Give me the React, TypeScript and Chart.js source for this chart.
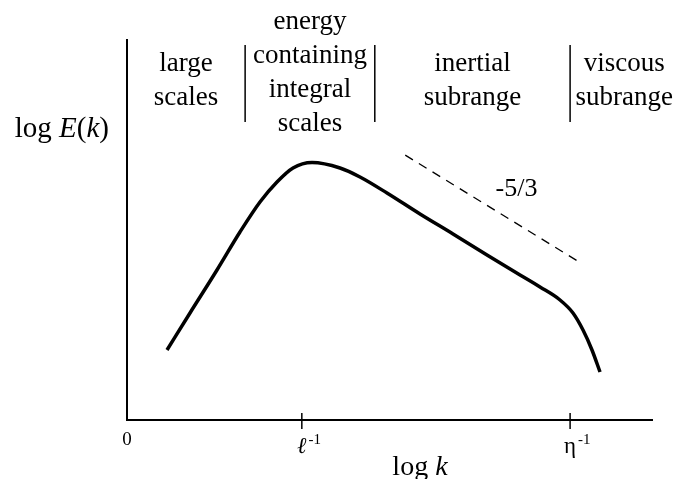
import React, { useEffect, useRef } from "react";
import { Chart, registerables } from "chart.js";

Chart.register(...registerables);

// Energy spectrum curve (log k, log E)
const curveX = [0.762, 1.2, 1.714, 2.152, 2.533, 2.857, 3.162, 3.524, 4.057, 4.438, 4.952, 5.581, 6.21, 6.857, 7.486, 7.867, 8.248, 8.495, 8.686, 8.857, 9.01];
const curveY = [1.842, 2.816, 3.947, 4.947, 5.737, 6.263, 6.632, 6.776, 6.632, 6.395, 5.974, 5.421, 4.895, 4.342, 3.816, 3.5, 3.158, 2.816, 2.368, 1.842, 1.263];
// -5/3 reference slope
const slopeX = [5.3, 8.67];
const slopeY = [6.97, 4.11];
const slopeLabel = "-5/3";
const slopeLabelX = 7.42;
const slopeLabelY = 6.08;
// region separators and labels
const separatorX = [2.25, 4.72, 8.44];
const separatorY = [7.84, 9.87];
const regionBounds = [0, 2.25, 4.72, 8.44, 10.5];
const regionLabels = [
  ["large", "scales"],
  ["energy", "containing", "integral", "scales"],
  ["inertial", "subrange"],
  ["viscous", "subrange"],
];
// x ticks
const tickValues = [0, 3.33, 8.44];
const tickMain = ["0", "\u2113", "\u03b7"];
const tickSup = ["", "-1", "-1"];
const xTitleX = 5.58;

const SERIF = '"Liberation Serif", "Times New Roman", serif';

type Seg = { t: string; italic?: boolean };

function drawRich(ctx: CanvasRenderingContext2D, segs: Seg[], size: number, x: number, y: number, align: "left" | "center" | "right") {
  const fonts = segs.map((s) => `${s.italic ? "italic " : ""}${size}px ${SERIF}`);
  let total = 0;
  const widths = segs.map((s, i) => {
    ctx.font = fonts[i];
    const w = ctx.measureText(s.t).width;
    total += w;
    return w;
  });
  let cx = align === "left" ? x : align === "center" ? x - total / 2 : x - total;
  ctx.textAlign = "left";
  segs.forEach((s, i) => {
    ctx.font = fonts[i];
    ctx.fillText(s.t, cx, y);
    cx += widths[i];
  });
}

const annotPlugin = {
  id: "annot",
  afterDraw(chart: any) {
    const { ctx, chartArea } = chart;
    const x = chart.scales.x;
    const y = chart.scales.y;
    ctx.save();
    ctx.fillStyle = "#000";
    ctx.strokeStyle = "#000";

    // tick marks crossing the axis
    ctx.lineWidth = 1.5;
    tickValues.forEach((v, i) => {
      if (i === 0) return;
      const px = x.getPixelForValue(v);
      ctx.beginPath();
      ctx.moveTo(px, chartArea.bottom - 7);
      ctx.lineTo(px, chartArea.bottom + 9);
      ctx.stroke();
    });

    // tick labels
    ctx.textBaseline = "alphabetic";
    tickValues.forEach((v, i) => {
      const px = x.getPixelForValue(v);
      if (!tickSup[i]) {
        ctx.font = `19px ${SERIF}`;
        ctx.textAlign = "center";
        ctx.fillText(tickMain[i], px, chartArea.bottom + 25);
        return;
      }
      const mainFont = `${i === 1 ? "italic " : ""}23px ${SERIF}`;
      const supFont = `15px ${SERIF}`;
      ctx.font = mainFont;
      const w1 = ctx.measureText(tickMain[i]).width;
      const start = px - w1 / 2;
      ctx.textAlign = "left";
      ctx.fillText(tickMain[i], start, chartArea.bottom + 33);
      ctx.font = supFont;
      ctx.fillText(tickSup[i], start + w1 + 2, chartArea.bottom + 24);
    });

    // x title
    drawRich(ctx, [{ t: "log " }, { t: "k", italic: true }], 28, x.getPixelForValue(xTitleX), chartArea.bottom + 55, "center");

    // y title
    ctx.textBaseline = "middle";
    drawRich(
      ctx,
      [{ t: "log " }, { t: "E", italic: true }, { t: "(" }, { t: "k", italic: true }, { t: ")" }],
      29,
      chartArea.left - 18,
      chartArea.top + 89,
      "right"
    );

    // slope label
    ctx.font = `26px ${SERIF}`;
    ctx.textAlign = "center";
    ctx.textBaseline = "middle";
    ctx.fillText(slopeLabel, x.getPixelForValue(slopeLabelX), y.getPixelForValue(slopeLabelY));

    // region labels
    const lineH = 34;
    ctx.font = `27px ${SERIF}`;
    ctx.textAlign = "center";
    ctx.textBaseline = "middle";
    regionLabels.forEach((lines, i) => {
      const cx = (x.getPixelForValue(regionBounds[i]) + x.getPixelForValue(regionBounds[i + 1])) / 2;
      const n = lines.length;
      const blockCenter = chartArea.top + (n > 2 ? 33 : 41);
      lines.forEach((t, j) => {
        const cy = blockCenter + (j - (n - 1) / 2) * lineH;
        ctx.fillText(t, cx, cy);
      });
    });
    ctx.restore();
  },
};

export default function App() {
  const ref = useRef<HTMLCanvasElement | null>(null);
  useEffect(() => {
    document.body.style.margin = "0";
    const canvas = ref.current;
    if (!canvas) return;
    const curve = curveX.map((v, i) => ({ x: v, y: curveY[i] }));
    const slope = slopeX.map((v, i) => ({ x: v, y: slopeY[i] }));
    const seps = separatorX.map((sx) => ({
      data: separatorY.map((sy) => ({ x: sx, y: sy })),
      borderColor: "#000",
      borderWidth: 1.5,
      pointRadius: 0,
      showLine: true,
      fill: false,
    }));
    const chart = new Chart(canvas, {
      type: "scatter",
      data: {
        datasets: [
          {
            data: curve,
            borderColor: "#000",
            borderWidth: 3.5,
            pointRadius: 0,
            showLine: true,
            cubicInterpolationMode: "monotone",
            fill: false,
          } as any,
          {
            data: slope,
            borderColor: "#000",
            borderWidth: 1.3,
            borderDash: [9, 7],
            pointRadius: 0,
            showLine: true,
            fill: false,
          },
          ...seps,
        ],
      },
      options: {
        animation: false,
        responsive: true,
        maintainAspectRatio: false,
        layout: { padding: { left: 127, right: 27, top: 40, bottom: 59 } },
        plugins: { legend: { display: false }, tooltip: { enabled: false } },
        scales: {
          x: {
            type: "linear",
            min: 0,
            max: 10,
            ticks: { display: false },
            grid: { display: false },
            border: { display: true, color: "#000", width: 2 },
            afterFit: (s: any) => {
              s.height = 0;
            },
          },
          y: {
            type: "linear",
            min: 0,
            max: 10,
            ticks: { display: false },
            grid: { display: false },
            border: { display: true, color: "#000", width: 2 },
            afterFit: (s: any) => {
              s.width = 0;
            },
          },
        },
      },
      plugins: [annotPlugin],
    });
    return () => chart.destroy();
  }, []);
  return (
    <div style={{ width: 679, height: 479, position: "relative", background: "#fff" }}>
      <canvas ref={ref} />
    </div>
  );
}
